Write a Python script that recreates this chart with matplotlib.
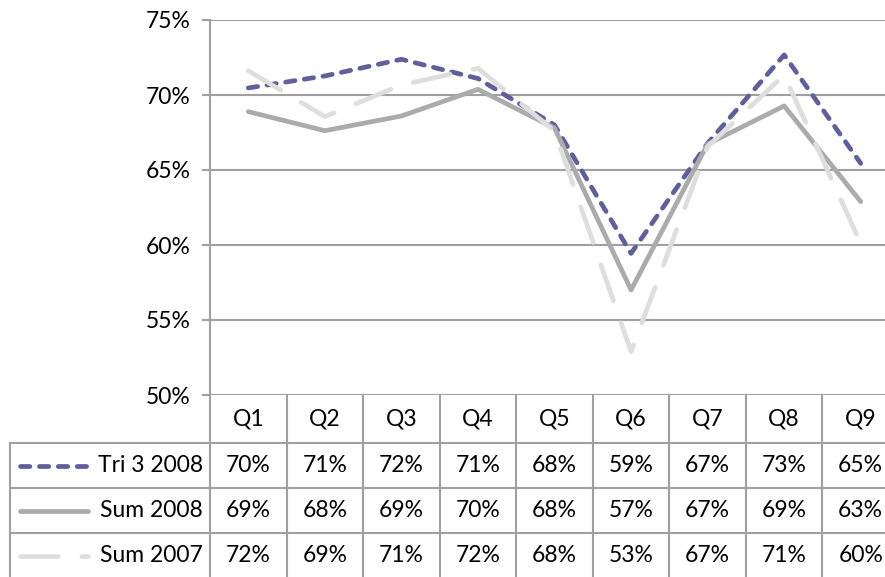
import numpy as np
import matplotlib
matplotlib.use("Agg")
import matplotlib.pyplot as plt
from matplotlib.lines import Line2D

plt.rcParams['font.family'] = ['Lato', 'DejaVu Sans']

quarters = ['Q1', 'Q2', 'Q3', 'Q4', 'Q5', 'Q6', 'Q7', 'Q8', 'Q9']
tri_2008 = [70.47, 71.27, 72.38, 71.1, 68.0, 59.44, 66.78, 72.67, 65.44]
sum_2008 = [68.89, 67.62, 68.6, 70.38, 67.8, 57.0, 66.73, 69.27, 62.89]
sum_2007 = [71.62, 68.56, 70.67, 71.78, 67.6, 52.89, 66.56, 71.33, 60.1]
series_names = ['Tri 3 2008', 'Sum 2008', 'Sum 2007']

W, H = 885, 577
fs = 16.5
fig = plt.figure(figsize=(W / 100, H / 100), dpi=100)
# plot area in pixels: x 210..899, y 20..395
ax = fig.add_axes([210 / W, (H - 395) / H, 689 / W, 375 / H])

grid_col = '#A0A0A0'
styles = [
    dict(color='#5F5F9C', lw=3.4, dashes=(2.0, 2.0), solid_capstyle='round', dash_capstyle='round'),
    dict(color='#ABABAB', lw=3.4, solid_capstyle='round'),
    dict(color='#DEDEDE', lw=3.4, dashes=(8.0, 5.0), dash_capstyle='round'),
]
x = np.arange(len(quarters))
for vals, st in zip([tri_2008, sum_2008, sum_2007], styles):
    ax.plot(x, vals, solid_joinstyle='round', **st, zorder=3)

ax.set_xlim(-0.5, len(quarters) - 0.5)
ax.set_ylim(50, 75)
ax.set_yticks(np.arange(50, 76, 5))
ax.set_yticklabels([f'{v}%' for v in range(50, 76, 5)], fontsize=fs)
ax.set_xticks([])
ax.yaxis.grid(True, color=grid_col, lw=1.5)
ax.set_axisbelow(True)
for s in ['top', 'right', 'bottom']:
    ax.spines[s].set_visible(False)
ax.spines['left'].set_color(grid_col)
ax.spines['left'].set_linewidth(1.5)
ax.tick_params(axis='y', length=6, width=1.5, color=grid_col, pad=8)

# data table below the plot, drawn in figure pixels
def fx(px):
    return px / W

def fy(py):
    return (H - py) / H

def hline(y, x0, x1):
    fig.add_artist(Line2D([fx(x0), fx(x1)], [fy(y), fy(y)], color=grid_col, lw=1.5))

def vline(xp, y0, y1):
    fig.add_artist(Line2D([fx(xp), fx(xp)], [fy(y0), fy(y1)], color=grid_col, lw=1.5))

col_w = 689 / len(quarters)
row_tops = [395, 443, 488, 533, 578]
vline(210, 395, 578)
vline(10, 443, 578)
for i in range(1, len(quarters) + 1):
    vline(210 + i * col_w, 395, 578)
for y in row_tops[1:4]:
    hline(y, 10, W)

for i, q in enumerate(quarters):
    cx = 210 + (i + 0.5) * col_w
    fig.text(fx(cx), fy(419), q, ha='center', va='center', fontsize=fs)

for r, (name, vals, st) in enumerate(zip(series_names, [tri_2008, sum_2008, sum_2007], styles)):
    cy = (row_tops[r + 1] + row_tops[r + 2]) / 2
    for i, v in enumerate(vals):
        cx = 210 + (i + 0.5) * col_w
        fig.text(fx(cx), fy(cy), f'{v:.0f}%', ha='center', va='center', fontsize=fs)
    fig.text(fx(203), fy(cy), name, ha='right', va='center', fontsize=fs)
    fig.add_artist(Line2D([fx(20), fx(88)], [fy(cy), fy(cy)], **st))

fig.savefig('out.png', dpi=100)
